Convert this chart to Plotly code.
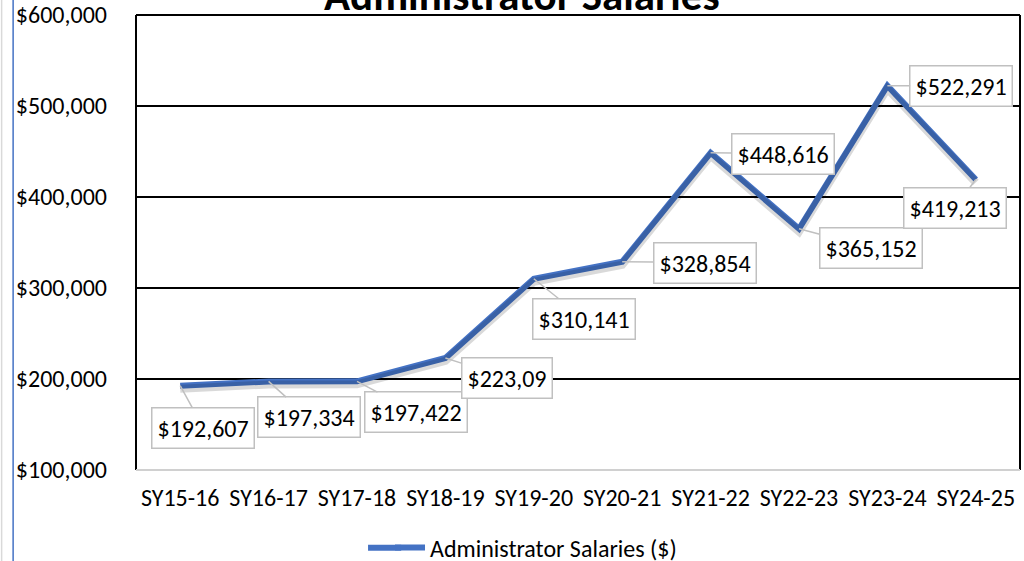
import plotly.graph_objects as go

categories = ["SY15-16", "SY16-17", "SY17-18", "SY18-19", "SY19-20",
              "SY20-21", "SY21-22", "SY22-23", "SY23-24", "SY24-25"]
salaries = [192607, 197334, 197422, 223090, 310141,
            328854, 448616, 365152, 522291, 419213]
value_labels = ["$192,607", "$197,334", "$197,422", "$223,09", "$310,141",
                "$328,854", "$448,616", "$365,152", "$522,291", "$419,213"]
series_name = "Administrator Salaries ($)"
title_text = "Administrator Salaries"
y_ticks = [100000, 200000, 300000, 400000, 500000, 600000]

# callout offsets (pixels) of each label box from its point
label_dx = [23, 40, 59, 62, 50, 83, 72, 72, 74, -21]
label_dy = [42, 36, 31, 20, 40, 1, 1, 19, 0, 28]

FONT = "Carlito, Calibri, Lato, sans-serif"
BLUE = "#4472C4"
FS = 24

fig = go.Figure()

# soft drop shadow of the line (drawn on an invisible shifted axis)
fig.add_trace(go.Scatter(
    x=categories, y=salaries, mode="lines", yaxis="y2",
    line=dict(color="rgba(0,0,0,0.15)", width=8),
    showlegend=False, hoverinfo="skip"))

fig.add_trace(go.Scatter(
    x=categories, y=salaries, mode="lines", name=series_name,
    line=dict(color=BLUE, width=6)))

for i, (c, v, t) in enumerate(zip(categories, salaries, value_labels)):
    fig.add_annotation(
        x=c, y=v, text=t, showarrow=True, arrowhead=0,
        arrowcolor="#c0c0c0", arrowwidth=1.5, standoff=0,
        ax=label_dx[i], ay=label_dy[i],
        bgcolor="white", bordercolor="#c0c0c0", borderwidth=1.5, borderpad=5,
        font=dict(family=FONT, size=FS, color="black"))

fig.add_annotation(
    text="<b>" + title_text + "</b>", xref="paper", yref="paper",
    x=0.4367, y=1.0, xanchor="center", yanchor="bottom", yshift=-9,
    showarrow=False, font=dict(family=FONT, size=43, color="black"))

# plot frame and page decorations
fig.add_shape(type="line", xref="paper", yref="paper", x0=0, x1=1, y0=1, y1=1,
              line=dict(color="black", width=2))
fig.add_shape(type="line", xref="paper", yref="paper", x0=1, x1=1, y0=0, y1=1,
              line=dict(color="black", width=2))
fig.add_shape(type="line", xref="paper", yref="paper", x0=0, x1=0, y0=0, y1=1,
              line=dict(color="black", width=2))
fig.add_shape(type="line", xref="paper", yref="paper", x0=0, x1=1, y0=0, y1=0,
              line=dict(color="#d0d0d0", width=2))
fig.add_shape(type="line", xref="paper", yref="paper", x0=-0.139, x1=-0.139,
              y0=-0.25, y1=1.05, line=dict(color=BLUE, width=1.5))
fig.add_shape(type="line", xref="paper", yref="paper", x0=-0.152, x1=-0.152,
              y0=-0.25, y1=1.05, line=dict(color="#d9d9d9", width=1.5))
# longer legend key line, as in the original legend
fig.add_shape(type="line", xref="paper", yref="paper", x0=0.2625, x1=0.30,
              y0=-0.171, y1=-0.171, line=dict(color=BLUE, width=6))

fig.update_layout(
    width=1024, height=561,
    margin=dict(l=136, r=4, t=15, b=91, autoexpand=False),
    paper_bgcolor="white", plot_bgcolor="white",
    font=dict(family=FONT, size=FS, color="black"),
    showlegend=True,
    legend=dict(orientation="h", x=0.4525, xanchor="center", y=-0.171,
                yanchor="middle", font=dict(family=FONT, size=FS),
                bgcolor="rgba(0,0,0,0)"),
    xaxis=dict(type="category", range=[-0.5, 9.5], showgrid=False,
               showline=False, ticks="", automargin=False,
               tickfont=dict(family=FONT, size=FS), ticklabelstandoff=11,
               fixedrange=True),
    yaxis=dict(range=[100000, 600000], tickvals=y_ticks, tickformat="$,.0f",
               automargin=False,
               showgrid=True, gridcolor="black", gridwidth=1.5,
               zeroline=False, showline=False, ticks="",
               tickfont=dict(family=FONT, size=FS), ticklabelstandoff=28),
    yaxis2=dict(range=[100000 + 3300, 600000 + 3300], overlaying="y",
                visible=False, showgrid=False, automargin=False),
)

fig.write_html(
    "out.html",
    config={"displayModeBar": False},
    post_script="document.body.style.margin='0';document.body.style.overflow='hidden';")
